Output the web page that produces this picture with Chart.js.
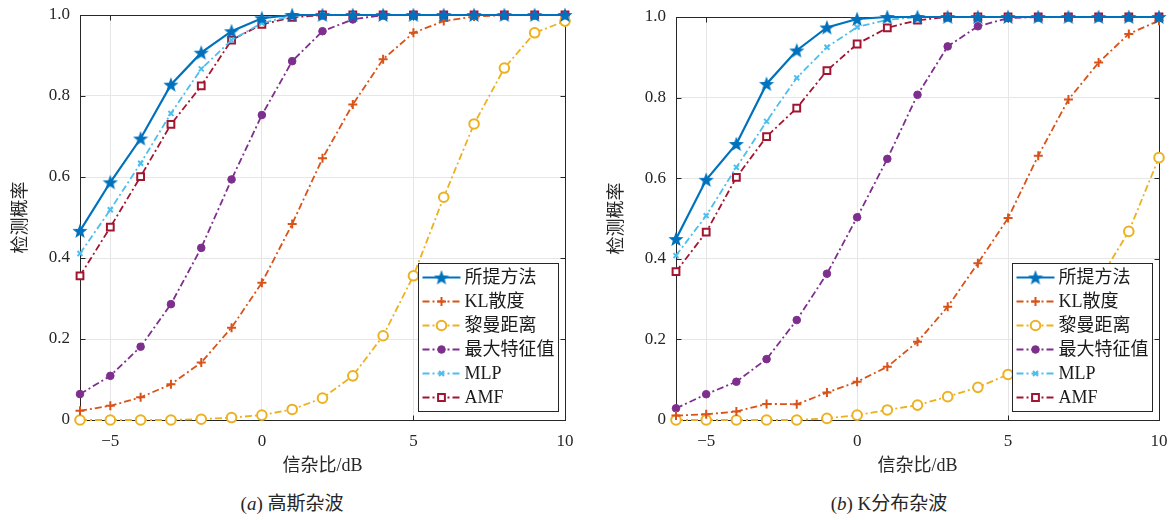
<!DOCTYPE html>
<html>
<head>
<meta charset="utf-8">
<script src="https://cdn.jsdelivr.net/npm/chart.js@4.4.1/dist/chart.umd.min.js"></script>
<style>
    body { margin: 0; background: #fff; width: 1169px; height: 520px; overflow: hidden; position: relative;
           font-family: 'Liberation Serif', 'Noto Sans CJK SC', serif; color: #262626; }
    .wrap { position: absolute; top: 0; height: 480px; }
    #wa { left: 0; width: 590px; }
    #wb { left: 596px; width: 573px; }
    .cap { position: absolute; top: 492px; font-size: 19px; line-height: 24px; white-space: nowrap; transform: translateX(-50%); }
    .cap i { font-family: 'Liberation Serif', serif; }
</style>
</head>
<body>
<div class="wrap" id="wa"><canvas id="chart-a" width="590" height="480"></canvas></div>
<div class="wrap" id="wb"><canvas id="chart-b" width="573" height="480"></canvas></div>
<div class="cap" style="left:292px">(<i>a</i>) 高斯杂波</div>
<div class="cap" style="left:889px">(<i>b</i>) K分布杂波</div>

<script>
// SNR grid (dB)
const snr = [-6, -5, -4, -3, -2, -1, 0, 1, 2, 3, 4, 5, 6, 7, 8, 9, 10];
const xTicks = [-5, 0, 5, 10];
const yTicks = [0, 0.2, 0.4, 0.6, 0.8, 1.0];
const methodNames = ['所提方法', 'KL散度', '黎曼距离', '最大特征值', 'MLP', 'AMF'];

// (a) Gaussian clutter
const gProposed = [0.467, 0.587, 0.695, 0.828, 0.907, 0.960, 0.992, 1, 1, 1, 1, 1, 1, 1, 1, 1, 1];
const gKL       = [0.023, 0.035, 0.056, 0.088, 0.142, 0.228, 0.339, 0.484, 0.646, 0.779, 0.891, 0.956, 0.985, 0.996, 1, 1, 1];
const gRiemann  = [0, 0, 0, 0, 0.002, 0.006, 0.012, 0.026, 0.054, 0.109, 0.208, 0.356, 0.550, 0.731, 0.869, 0.956, 0.985];
const gMaxEig   = [0.064, 0.109, 0.181, 0.286, 0.425, 0.594, 0.753, 0.886, 0.960, 0.989, 1, 1, 1, 1, 1, 1, 1];
const gMLP      = [0.411, 0.519, 0.634, 0.757, 0.867, 0.938, 0.980, 0.998, 1, 1, 1, 1, 1, 1, 1, 1, 1];
const gAMF      = [0.356, 0.476, 0.601, 0.730, 0.825, 0.938, 0.977, 0.994, 1, 1, 1, 1, 1, 1, 1, 1, 1];

// (b) K-distributed clutter
const kProposed = [0.449, 0.596, 0.685, 0.834, 0.917, 0.974, 0.995, 1, 1, 1, 1, 1, 1, 1, 1, 1, 1];
const kKL       = [0.011, 0.014, 0.021, 0.040, 0.039, 0.068, 0.095, 0.132, 0.194, 0.281, 0.389, 0.501, 0.656, 0.795, 0.887, 0.958, 0.991];
const kRiemann  = [0, 0, 0, 0, 0, 0.004, 0.012, 0.025, 0.037, 0.058, 0.081, 0.113, 0.175, 0.250, 0.345, 0.468, 0.651];
const kMaxEig   = [0.029, 0.064, 0.095, 0.151, 0.248, 0.363, 0.503, 0.648, 0.807, 0.927, 0.977, 0.997, 1, 1, 1, 1, 1];
const kMLP      = [0.408, 0.507, 0.627, 0.741, 0.849, 0.925, 0.975, 0.993, 1, 1, 1, 1, 1, 1, 1, 1, 1];
const kAMF      = [0.368, 0.466, 0.602, 0.703, 0.774, 0.867, 0.933, 0.973, 0.992, 1, 1, 1, 1, 1, 1, 1, 1];

const AXIS = '#262626';
const LATIN = "'Liberation Serif', 'Noto Sans CJK SC', serif";
const DASHDOT = [7, 3, 2, 3];

// filled five-point star as a point image
function starImage(color, size) {
    const c = document.createElement('canvas');
    c.width = size; c.height = size;
    const g = c.getContext('2d');
    const cx = size / 2, cy = size / 2 + 0.6, R = size / 2, r = R * 0.42;
    g.beginPath();
    for (let i = 0; i < 10; i++) {
        const rad = i % 2 ? r : R;
        const a = -Math.PI / 2 + i * Math.PI / 5;
        g.lineTo(cx + rad * Math.cos(a), cy + rad * Math.sin(a));
    }
    g.closePath();
    g.fillStyle = color;
    g.fill();
    return c;
}

const styles = [
    { color: '#0072BD', dash: [], width: 2.2, pointStyle: starImage('#0072BD', 16), radius: 7, fill: '#0072BD', pw: 1 },
    { color: '#D95319', dash: DASHDOT, width: 1.8, pointStyle: 'cross', radius: 4.5, fill: '#D95319', pw: 2 },
    { color: '#EDB120', dash: DASHDOT, width: 1.8, pointStyle: 'circle', radius: 4.8, fill: '#ffffff', pw: 2 },
    { color: '#7E2F8E', dash: DASHDOT, width: 1.8, pointStyle: 'circle', radius: 3.8, fill: '#7E2F8E', pw: 1 },
    { color: '#4DBEEE', dash: DASHDOT, width: 1.8, pointStyle: 'crossRot', radius: 3.5, fill: '#4DBEEE', pw: 2 },
    { color: '#A2142F', dash: DASHDOT, width: 1.8, pointStyle: 'rect', radius: 4.8, fill: '#ffffff', pw: 2 }
];

// axes box with inward ticks on all four sides (MATLAB look)
const frame = {
    id: 'frame',
    beforeDatasetsDraw(chart) {
        const { ctx, chartArea: a, scales: { x, y } } = chart;
        const L = Math.round(a.left) + 0.5, R = Math.round(a.right) + 0.5;
        const T = Math.round(a.top) + 0.5, B = Math.round(a.bottom) + 0.5;
        ctx.save();
        ctx.strokeStyle = AXIS;
        ctx.lineWidth = 1;
        ctx.strokeRect(L, T, R - L, B - T);
        ctx.beginPath();
        x.ticks.forEach(t => {
            const px = Math.round(x.getPixelForValue(t.value)) + 0.5;
            ctx.moveTo(px, B); ctx.lineTo(px, B - 5);
            ctx.moveTo(px, T); ctx.lineTo(px, T + 5);
        });
        y.ticks.forEach(t => {
            const py = Math.round(y.getPixelForValue(t.value)) + 0.5;
            ctx.moveTo(L, py); ctx.lineTo(L + 5, py);
            ctx.moveTo(R, py); ctx.lineTo(R - 5, py);
        });
        ctx.stroke();
        ctx.restore();
    }
};

// boxed legend in the lower right of the plot area
const boxLegend = {
    id: 'boxLegend',
    afterDraw(chart, args, opts) {
        const { ctx, chartArea: a } = chart;
        const sets = chart.data.datasets;
        ctx.save();
        ctx.font = '18px ' + LATIN;
        const textW = Math.max(...sets.map(d => ctx.measureText(d.label).width));
        const rowH = 24;
        const w = Math.round(46 + textW + 4), h = rowH * sets.length + 4;
        const x0 = Math.round(a.right - opts.right - w) + 0.5;
        const y0 = Math.round(a.bottom - opts.bottom - h) + 0.5;
        ctx.fillStyle = '#fff';
        ctx.fillRect(x0, y0, w, h);
        ctx.strokeStyle = AXIS;
        ctx.lineWidth = 1;
        ctx.strokeRect(x0, y0, w, h);
        sets.forEach((d, i) => {
            const cy = y0 + 2 + rowH * (i + 0.5);
            ctx.setLineDash(d.borderDash || []);
            ctx.strokeStyle = d.borderColor;
            ctx.lineWidth = d.borderWidth;
            ctx.beginPath();
            ctx.moveTo(x0 + 4, cy);
            ctx.lineTo(x0 + 42, cy);
            ctx.stroke();
            ctx.setLineDash([]);
            ctx.fillStyle = d.pointBackgroundColor;
            ctx.strokeStyle = d.pointBorderColor;
            ctx.lineWidth = d.pointBorderWidth;
            Chart.helpers.drawPoint(ctx, {
                pointStyle: d.pointStyle, radius: d.pointRadius,
                borderWidth: d.pointBorderWidth, rotation: 0
            }, x0 + 23, cy);
            ctx.fillStyle = '#1a1a1a';
            ctx.textBaseline = 'middle';
            ctx.fillText(d.label, x0 + 46, cy + 1);
        });
        ctx.restore();
    }
};

function makeChart(canvasId, series, topPad, rightPad) {
    const datasets = series.map((vals, i) => {
        const s = styles[i];
        return {
            label: methodNames[i],
            data: snr.map((x, j) => ({ x: x, y: vals[j] })),
            borderColor: s.color,
            borderWidth: s.width,
            borderDash: s.dash,
            pointStyle: s.pointStyle,
            pointRadius: s.radius,
            pointBackgroundColor: s.fill,
            pointBorderColor: s.color,
            pointBorderWidth: s.pw,
            tension: 0,
            clip: false
        };
    });
    return new Chart(document.getElementById(canvasId), {
        type: 'line',
        data: { datasets: datasets },
        plugins: [frame, boxLegend],
        options: {
            responsive: false,
            animation: false,
            devicePixelRatio: 1,
            layout: { padding: { top: topPad, right: rightPad, left: 0, bottom: 0 } },
            plugins: {
                legend: { display: false },
                tooltip: { enabled: false },
                boxLegend: { right: 7, bottom: 9 }
            },
            scales: {
                x: {
                    type: 'linear',
                    min: -6, max: 10,
                    afterBuildTicks: sc => { sc.ticks = xTicks.map(v => ({ value: v })); },
                    afterFit: sc => { sc.height = 60; sc.paddingLeft = 0; sc.paddingRight = 0; },
                    grid: { color: '#e6e6e6', drawTicks: false },
                    border: { display: false },
                    ticks: {
                        padding: 11,
                        color: AXIS,
                        font: { family: LATIN, size: 17 },
                        callback: v => v < 0 ? '\u2212' + Math.abs(v) : String(v)
                    },
                    title: {
                        display: true, text: '信杂比/dB', color: AXIS,
                        font: { family: LATIN, size: 18 },
                        padding: { top: 0, bottom: 3 }
                    }
                },
                y: {
                    min: 0, max: 1,
                    afterBuildTicks: sc => { sc.ticks = yTicks.map(v => ({ value: v })); },
                    afterFit: sc => { sc.width = 80; sc.paddingTop = 0; sc.paddingBottom = 0; },
                    grid: { color: '#e6e6e6', drawTicks: false },
                    border: { display: false },
                    ticks: {
                        padding: 10,
                        color: AXIS,
                        font: { family: LATIN, size: 17 },
                        callback: v => v === 0 ? '0' : v.toFixed(1)
                    },
                    title: {
                        display: true, text: '检测概率', color: AXIS,
                        font: { family: LATIN, size: 18 },
                        padding: { top: 10, bottom: 0 }
                    }
                }
            }
        }
    });
}

makeChart('chart-a', [gProposed, gKL, gRiemann, gMaxEig, gMLP, gAMF], 15, 25);
makeChart('chart-b', [kProposed, kKL, kRiemann, kMaxEig, kMLP, kAMF], 17, 10);
</script>
</body>
</html>
